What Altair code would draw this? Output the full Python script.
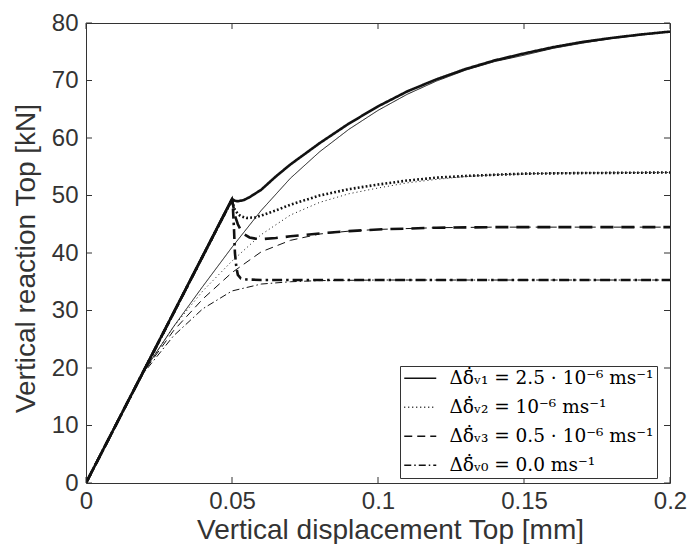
import altair as alt
import pandas as pd

# ---------------- data ----------------
rate_labels = [
    "Δδ\u0304\u0307ᵥ₁ = 2.5 · 10⁻⁶ ms⁻¹",
    "Δδ\u0304\u0307ᵥ₂ = 10⁻⁶ ms⁻¹",
    "Δδ\u0304\u0307ᵥ₃ = 0.5 · 10⁻⁶ ms⁻¹",
    "Δδ\u0304\u0307ᵥ₀ = 0.0 ms⁻¹",
]

# thick curves
thick_v1_x = [0, 0.05, 0.051, 0.052, 0.054, 0.056, 0.06, 0.065, 0.07, 0.08, 0.09, 0.10,
              0.11, 0.12, 0.13, 0.14, 0.15, 0.16, 0.17, 0.18, 0.19, 0.20]
thick_v1_y = [0, 49.4, 49.1, 49.0, 49.2, 49.7, 51.0, 53.3, 55.4, 59.1, 62.5, 65.5,
              68.1, 70.2, 72.0, 73.5, 74.7, 75.8, 76.7, 77.4, 78.0, 78.5]

thick_v2_x = [0, 0.05, 0.0505, 0.051, 0.052, 0.053, 0.055, 0.058, 0.06, 0.065, 0.07,
              0.08, 0.09, 0.10, 0.11, 0.12, 0.13, 0.14, 0.15, 0.17, 0.20]
thick_v2_y = [0, 49.3, 48.3, 47.5, 46.8, 46.4, 46.1, 46.2, 46.5, 47.4, 48.4,
              50.0, 51.1, 51.9, 52.6, 53.1, 53.4, 53.6, 53.8, 53.9, 54.0]

thick_v3_x = [0, 0.05, 0.0505, 0.051, 0.052, 0.053, 0.054, 0.056, 0.058, 0.06, 0.065,
              0.07, 0.08, 0.09, 0.10, 0.12, 0.14, 0.20]
thick_v3_y = [0, 49.3, 48.0, 46.5, 45.0, 44.0, 43.3, 42.7, 42.5, 42.4, 42.6,
              42.9, 43.4, 43.8, 44.1, 44.4, 44.5, 44.5]

thick_v0_x = [0, 0.05, 0.0503, 0.0507, 0.051, 0.0515, 0.052, 0.053, 0.055, 0.06, 0.20]
thick_v0_y = [0, 49.3, 48.0, 44.0, 40.0, 37.5, 36.2, 35.6, 35.4, 35.3, 35.3]

# thin curves
thin_v1_x = [0, 0.01, 0.02, 0.03, 0.04, 0.05, 0.06, 0.07, 0.08, 0.09, 0.10,
             0.11, 0.12, 0.13, 0.14, 0.15, 0.16, 0.17, 0.18, 0.19, 0.20]
thin_v1_y = [0, 9.9, 19.6, 27.2, 34.2, 41.0, 47.4, 53.0, 57.6, 61.5, 64.8,
             67.6, 69.9, 71.8, 73.3, 74.4, 75.6, 76.5, 77.3, 77.9, 78.5]

thin_v2_x = [0, 0.01, 0.02, 0.03, 0.04, 0.05, 0.06, 0.07, 0.08, 0.09, 0.10,
             0.11, 0.12, 0.13, 0.14, 0.16, 0.20]
thin_v2_y = [0, 9.9, 19.6, 27.2, 33.4, 38.6, 43.2, 46.6, 48.8, 50.3, 51.3,
             52.2, 52.8, 53.3, 53.6, 53.9, 54.0]

thin_v3_x = [0, 0.01, 0.02, 0.03, 0.04, 0.05, 0.06, 0.07, 0.08, 0.09, 0.10,
             0.12, 0.14, 0.20]
thin_v3_y = [0, 9.9, 19.5, 26.5, 32.0, 36.6, 40.2, 42.2, 43.3, 43.8, 44.1,
             44.4, 44.5, 44.5]

thin_v0_x = [0, 0.01, 0.02, 0.03, 0.04, 0.05, 0.06, 0.07, 0.08, 0.10, 0.20]
thin_v0_y = [0, 9.9, 19.3, 25.6, 30.3, 33.4, 34.6, 35.0, 35.2, 35.3, 35.3]

x_ticks = [0, 0.05, 0.1, 0.15, 0.2]
y_ticks = [0, 10, 20, 30, 40, 50, 60, 70, 80]


def frame(xs, ys, label):
    return pd.DataFrame({"x": xs, "y": ys, "rate": label})


df_thick = pd.concat([
    frame(thick_v1_x, thick_v1_y, rate_labels[0]),
    frame(thick_v2_x, thick_v2_y, rate_labels[1]),
    frame(thick_v3_x, thick_v3_y, rate_labels[2]),
    frame(thick_v0_x, thick_v0_y, rate_labels[3]),
])
df_thin = pd.concat([
    frame(thin_v1_x, thin_v1_y, rate_labels[0]),
    frame(thin_v2_x, thin_v2_y, rate_labels[1]),
    frame(thin_v3_x, thin_v3_y, rate_labels[2]),
    frame(thin_v0_x, thin_v0_y, rate_labels[3]),
])

# ---------------- chart ----------------
W, H = 584, 460
TICK = 6
AX = "#333333"
TXT = "#333333"

xs = alt.Scale(domain=[0, 0.2], nice=False, zero=False)
ys = alt.Scale(domain=[0, 80], nice=False, zero=False)

x_axis = alt.Axis(values=x_ticks, format="~g", title="Vertical displacement Top [mm]",
                  labelPadding=6, labelFlush=False, titleX=304, titleY=55,
                  titleBaseline="alphabetic", titleAlign="center")
y_axis = alt.Axis(values=y_ticks, title="Vertical reaction Top [kN]", labelPadding=8,
                  labelFlush=False, titleX=-60, titleY=235, titleAngle=270,
                  titleAlign="center", titleBaseline="middle")

thick = alt.Chart(df_thick).mark_line(strokeWidth=2.6, color="#111111", strokeCap="butt",
                                      clip=True).encode(
    x=alt.X("x:Q", scale=xs, axis=x_axis),
    y=alt.Y("y:Q", scale=ys, axis=y_axis),
    strokeDash=alt.StrokeDash("rate:N", scale=alt.Scale(domain=rate_labels,
                              range=[[1, 0], [1.8, 2.2], [13, 8], [10, 4, 2.5, 4]]),
                              legend=None),
    detail="rate:N",
)

thin = alt.Chart(df_thin).mark_line(strokeWidth=1, color="#111111", strokeCap="butt",
                                    clip=True).encode(
    x=alt.X("x:Q", scale=xs, axis=x_axis),
    y=alt.Y("y:Q", scale=ys, axis=y_axis),
    strokeDash=alt.StrokeDash("rate:N", scale=alt.Scale(domain=rate_labels,
                              range=[[1, 0], [1, 3], [8, 5], [7, 3, 1.5, 3]]),
                              legend=alt.Legend(
                                  orient="none", legendX=314, legendY=343, title=None,
                                  symbolType="M-2,0H2", symbolSize=256, symbolOffset=8,
                                  symbolStrokeWidth=1.3, symbolStrokeColor="#111111",
                                  labelFont="DejaVu Serif", labelFontSize=18.5,
                                  labelColor="#000000", labelOffset=20, labelLimit=400,
                                  fillColor="white", strokeColor=AX, padding=3,
                                  rowPadding=10)),
    detail="rate:N",
)

xt = pd.DataFrame({"t": x_ticks})
yt = pd.DataFrame({"t": y_ticks})

bottom_ticks = alt.Chart(xt).mark_rule(color=AX, strokeWidth=1).encode(
    x=alt.X("t:Q", scale=xs, axis=x_axis), y=alt.value(H), y2=alt.value(H - TICK))
top_ticks = alt.Chart(xt).mark_rule(color=AX, strokeWidth=1).encode(
    x=alt.X("t:Q", scale=xs, axis=x_axis), y=alt.value(0), y2=alt.value(TICK))
left_ticks = alt.Chart(yt).mark_rule(color=AX, strokeWidth=1).encode(
    y=alt.Y("t:Q", scale=ys, axis=y_axis), x=alt.value(0), x2=alt.value(TICK))
right_ticks = alt.Chart(yt).mark_rule(color=AX, strokeWidth=1).encode(
    y=alt.Y("t:Q", scale=ys, axis=y_axis), x=alt.value(W), x2=alt.value(W - TICK))

chart = alt.layer(
    thin, thick, bottom_ticks, top_ticks, left_ticks, right_ticks
).resolve_scale(
    strokeDash="independent"
).properties(
    width=W, height=H,
    autosize=alt.AutoSizeParams(type="none"),
    padding={"left": 78, "top": 15, "right": 17, "bottom": 61},
).configure_view(
    stroke=AX, strokeWidth=1
).configure_axis(
    grid=False, domain=False, ticks=False, tickSize=0,
    labelFont="Liberation Sans", labelFontSize=24, labelColor=TXT,
    titleFont="Liberation Sans", titleFontSize=28, titleFontWeight="normal", titleColor=TXT,
)

chart.save("out.html", embed_options={"renderer": "svg", "actions": False})
